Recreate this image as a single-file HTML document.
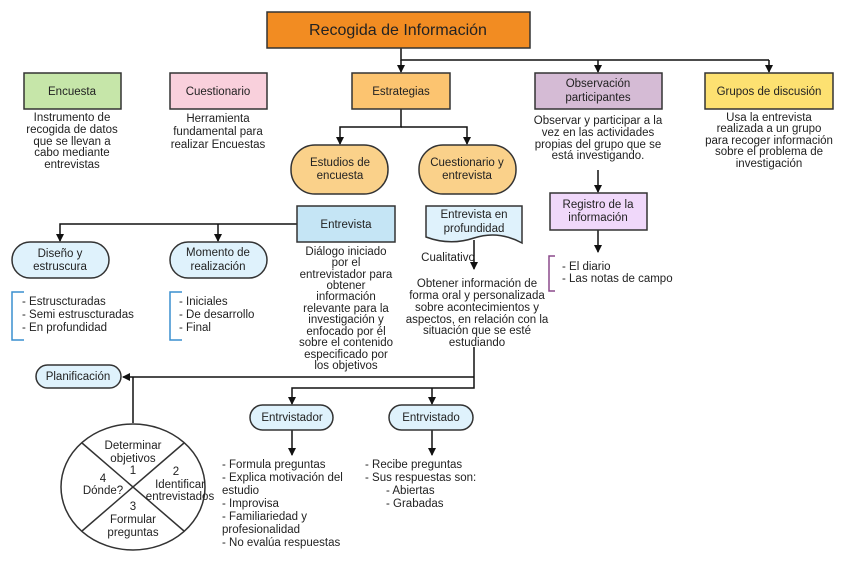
<!DOCTYPE html>
<html><head><meta charset="utf-8"><style>
body{margin:0;background:#fff}
svg{display:block;font-family:"Liberation Sans",sans-serif}
text{fill:#222;font-size:11.5px;text-anchor:middle}
.b{stroke:#333;stroke-width:1.5}
</style></head><body>
<svg width="848" height="565" viewBox="0 0 848 565" xmlns="http://www.w3.org/2000/svg">
<defs><marker id="a" markerWidth="8" markerHeight="8" refX="7" refY="4" orient="auto" markerUnits="userSpaceOnUse"><path d="M0,0 L8,4 L0,8 z" fill="#111"/></marker></defs>
<g stroke="#111" stroke-width="1.5" fill="none">
<path d="M401,48 V60 H769"/>
<path d="M401,60 V72" marker-end="url(#a)"/>
<path d="M598,60 V72" marker-end="url(#a)"/>
<path d="M769,60 V72" marker-end="url(#a)"/>
<path d="M401,109 V127 H340 V144" marker-end="url(#a)"/>
<path d="M401,127 H467 V144" marker-end="url(#a)"/>
<path d="M297,224 H60 V241" marker-end="url(#a)"/>
<path d="M218,224 V241" marker-end="url(#a)"/>
<path d="M474,240 V269" marker-end="url(#a)"/>
<path d="M474,347 V388 H292 V404" marker-end="url(#a)"/>
<path d="M432,388 V404" marker-end="url(#a)"/>
<path d="M474,377 H123" marker-end="url(#a)"/>
<path d="M133,377 V423"/>
<path d="M292,430 V455" marker-end="url(#a)"/>
<path d="M432,430 V455" marker-end="url(#a)"/>
<path d="M598,170 V192" marker-end="url(#a)"/>
<path d="M598,230 V252" marker-end="url(#a)"/>
</g>
<rect x="267" y="12" width="263" height="36" fill="#f28c22" class="b"/>
<text x="398" y="35" style="font-size:16px">Recogida de Información</text>
<rect x="24" y="73" width="97" height="36" fill="#c6e6a9" class="b"/><text x="72" y="95">Encuesta</text>
<rect x="170" y="73" width="97" height="36" fill="#f9d0dc" class="b"/><text x="218" y="95">Cuestionario</text>
<rect x="352" y="73" width="98" height="36" fill="#fcc470" class="b"/><text x="401" y="95">Estrategias</text>
<rect x="535" y="73" width="127" height="36" fill="#d5bbd5" class="b"/><text x="598" y="87">Observación</text><text x="598" y="101">participantes</text>
<rect x="705" y="73" width="128" height="36" fill="#fde171" class="b"/><text x="769" y="95">Grupos de discusión</text>
<g><text x="72" y="121">Instrumento de</text><text x="72" y="133">recogida de datos</text><text x="72" y="145">que se llevan a</text><text x="72" y="156">cabo mediante</text><text x="72" y="168">entrevistas</text></g>
<g><text x="218" y="122">Herramienta</text><text x="218" y="135">fundamental para</text><text x="218" y="148">realizar Encuestas</text></g>
<g><text x="598" y="124">Observar y participar a la</text><text x="598" y="136">vez en las actividades</text><text x="598" y="148">propias del grupo que se</text><text x="598" y="159">está investigando.</text></g>
<g><text x="769" y="121">Usa la entrevista</text><text x="769" y="132">realizada a un grupo</text><text x="769" y="144">para recoger información</text><text x="769" y="155">sobre el problema de</text><text x="769" y="167">investigación</text></g>
<rect x="291" y="145" width="97" height="49" rx="24" fill="#fad18a" class="b"/><text x="340" y="166">Estudios de</text><text x="340" y="179">encuesta</text>
<rect x="419" y="145" width="97" height="49" rx="24" fill="#fad18a" class="b"/><text x="467" y="166">Cuestionario y</text><text x="467" y="179">entrevista</text>
<rect x="297" y="206" width="98" height="36" fill="#c5e5f5" class="b"/><text x="346" y="228">Entrevista</text>
<path d="M426,206 H522 V243 Q498,230 474,238 T426,237 Z" fill="#dff2fc" class="b"/>
<text x="474" y="218">Entrevista en</text><text x="474" y="232">profundidad</text>
<rect x="12" y="242" width="97" height="36" rx="18" fill="#dff2fc" class="b"/><text x="60" y="257">Diseño y</text><text x="60" y="270">estruscura</text>
<rect x="170" y="242" width="97" height="36" rx="18" fill="#dff2fc" class="b"/><text x="218" y="256">Momento de</text><text x="218" y="270">realización</text>
<g><text x="346" y="255">Diálogo iniciado</text><text x="346" y="266">por el</text><text x="346" y="278">entrevistador para</text><text x="346" y="289">obtener</text><text x="346" y="300">información</text><text x="346" y="312">relevante para la</text><text x="346" y="323">investigación y</text><text x="346" y="335">enfocado por él</text><text x="346" y="346">sobre el contenido</text><text x="346" y="358">especificado por</text><text x="346" y="369">los objetivos</text></g>
<text x="448" y="261">Cualitativo</text>
<g><text x="477" y="287">Obtener información de</text><text x="477" y="299">forma oral y personalizada</text><text x="477" y="311">sobre acontecimientos y</text><text x="477" y="323">aspectos, en relación con la</text><text x="477" y="334">situación que se esté</text><text x="477" y="346">estudiando</text></g>
<rect x="550" y="193" width="97" height="37" fill="#f0d8fa" class="b"/><text x="598" y="208">Registro de la</text><text x="598" y="221">información</text>
<path d="M555,256 H549 V291 H555" stroke="#8b4a8b" stroke-width="1.5" fill="none"/>
<text x="562" y="270" style="text-anchor:start">- El diario</text><text x="562" y="282" style="text-anchor:start">- Las notas de campo</text>
<path d="M24,292 H12 V340 H24" stroke="#3a8fcf" stroke-width="1.5" fill="none"/>
<path d="M182,292 H170 V340 H182" stroke="#3a8fcf" stroke-width="1.5" fill="none"/>
<text x="22" y="305" style="text-anchor:start">- Estruscturadas</text><text x="22" y="318" style="text-anchor:start">- Semi estruscturadas</text><text x="22" y="331" style="text-anchor:start">- En profundidad</text>
<text x="179" y="305" style="text-anchor:start">- Iniciales</text><text x="179" y="318" style="text-anchor:start">- De desarrollo</text><text x="179" y="331" style="text-anchor:start">- Final</text>
<rect x="36" y="365" width="85" height="23" rx="11.5" fill="#dff2fc" class="b"/><text x="78" y="380">Planificación</text>
<ellipse cx="133" cy="487" rx="72" ry="63" fill="#fff" class="b"/>
<path d="M82,443 L184,531 M184,443 L82,531" class="b"/>
<text x="133" y="449">Determinar</text><text x="133" y="462">objetivos</text><text x="133" y="474">1</text>
<text x="176" y="475">2</text><text x="180" y="488">Identificar</text><text x="180" y="500">entrevistados</text>
<text x="103" y="482">4</text><text x="103" y="494">Dónde?</text>
<text x="133" y="510">3</text><text x="133" y="523">Formular</text><text x="133" y="536">preguntas</text>
<rect x="250" y="405" width="83" height="25" rx="12.5" fill="#dff2fc" class="b"/><text x="292" y="421">Entrvistador</text>
<rect x="389" y="405" width="84" height="25" rx="12.5" fill="#dff2fc" class="b"/><text x="431" y="421">Entrvistado</text>
<text x="222" y="468" style="text-anchor:start">- Formula preguntas</text><text x="222" y="481" style="text-anchor:start">- Explica motivación del</text><text x="222" y="494" style="text-anchor:start">estudio</text><text x="222" y="507" style="text-anchor:start">- Improvisa</text><text x="222" y="520" style="text-anchor:start">- Familiariedad y</text><text x="222" y="533" style="text-anchor:start">profesionalidad</text><text x="222" y="546" style="text-anchor:start">- No evalúa respuestas</text>
<text x="365" y="468" style="text-anchor:start">- Recibe preguntas</text><text x="365" y="481" style="text-anchor:start">- Sus respuestas son:</text><text x="386" y="494" style="text-anchor:start">- Abiertas</text><text x="386" y="507" style="text-anchor:start">- Grabadas</text>
</svg>
</body></html>
